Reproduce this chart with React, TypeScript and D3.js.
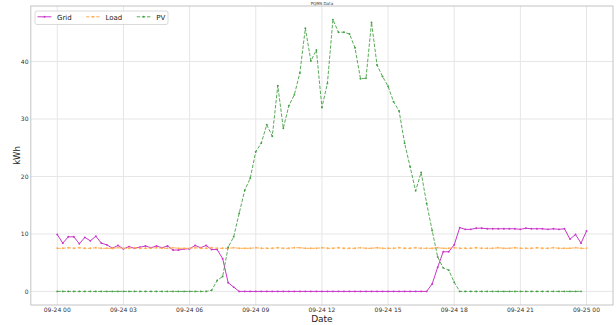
import React from "react";
import * as d3 from "d3";

const seriesNames = ["Grid", "Load", "PV"];

const gridValues = [
  9.9, 8.4, 9.5, 9.5, 8.3, 9.4, 8.8, 9.6, 8.4, 8.1, 7.5, 8.0, 7.4, 7.8, 7.5, 7.7,
  7.9, 7.6, 7.9, 7.6, 7.9, 7.2, 7.2, 7.4, 7.4, 8.0, 7.6, 8.0, 7.3, 7.3, 5.7, 1.5,
  0.75, 0, 0, 0, 0, 0, 0, 0, 0, 0, 0, 0, 0, 0, 0, 0, 0, 0, 0, 0, 0, 0, 0, 0, 0, 0,
  0, 0, 0, 0, 0, 0, 0, 0, 0, 0, 1.3, 4.2, 6.9, 6.9, 8.1, 11.1, 10.8, 10.8, 11.0,
  11.0, 10.9, 10.9, 10.9, 10.9, 10.9, 10.9, 10.8, 11.0, 10.9, 10.9, 10.9, 10.8,
  10.9, 10.8, 10.9, 9.1, 9.9, 8.4, 10.5,
];

const loadValues = [
  7.5, 7.5, 7.6, 7.5, 7.6, 7.5, 7.5, 7.6, 7.5, 7.5, 7.5, 7.6, 7.5, 7.5, 7.6, 7.5,
  7.5, 7.5, 7.6, 7.5, 7.5, 7.6, 7.5, 7.5, 7.5, 7.6, 7.5, 7.5, 7.6, 7.5, 7.5, 7.5,
  7.6, 7.5, 7.5, 7.5, 7.6, 7.5, 7.5, 7.5, 7.6, 7.5, 7.5, 7.6, 7.6, 7.5, 7.5, 7.5,
  7.6, 7.5, 7.5, 7.6, 7.5, 7.5, 7.5, 7.6, 7.5, 7.5, 7.6, 7.5, 7.5, 7.5, 7.6, 7.5,
  7.5, 7.6, 7.5, 7.5, 7.5, 7.6, 7.5, 7.5, 7.6, 7.5, 7.5, 7.5, 7.6, 7.5, 7.5, 7.5,
  7.6, 7.5, 7.5, 7.6, 7.5, 7.5, 7.5, 7.6, 7.5, 7.5, 7.6, 7.5, 7.5, 7.5, 7.6, 7.5,
  7.5,
];

const pvValues = [
  0, 0, 0, 0, 0, 0, 0, 0, 0, 0, 0, 0, 0, 0, 0, 0, 0, 0, 0, 0, 0, 0, 0, 0, 0, 0, 0, 0,
  0.2, 1.9, 2.6, 7.7, 9.5, 13.6, 17.6, 19.7, 24.3, 25.8, 29.0, 27.0, 35.8, 28.4,
  32.3, 34.2, 38.0, 45.8, 40.1, 42.0, 32.0, 36.2, 47.3, 45.1, 45.1, 44.8, 42.4,
  37.0, 37.1, 46.8, 39.4, 37.4, 35.7, 33.0, 31.4, 25.8, 21.7, 17.5, 20.7, 15.3,
  10.6, 6.0, 4.1, 3.7, 1.6, 0, 0, 0, 0, 0, 0, 0, 0, 0, 0, 0, 0, 0, 0, 0, 0, 0, 0, 0,
  0, 0, 0, 0,
];

const yTicks = [0, 10, 20, 30, 40];
const titleText = "PQMS Data";
const xLabel = "Date";
const yLabel = "kWh";

const startTime = new Date(2024, 8, 24, 0, 0);
const endTime = new Date(2024, 8, 25, 0, 0);
const times = d3.timeMinute.every(15)!.range(startTime, new Date(2024, 8, 25, 0, 1));

const colors = ["#c935c9", "#ffad52", "#46a046"];
const dashes = ["none", "3.5,1.6", "3.5,1.6"];
const widths = [1, 1, 0.9];

export default function App() {
  const W = 616;
  const H = 325;
  const left = 30.8;
  const right = 613;
  const top = 6;
  const bottom = 305;
  const font = "DejaVu Sans, Liberation Sans, sans-serif";

  const span = endTime.getTime() - startTime.getTime();
  const x = d3
    .scaleTime()
    .domain([new Date(startTime.getTime() - span * 0.05), new Date(endTime.getTime() + span * 0.05)])
    .range([left, right]);

  const all = [...gridValues, ...loadValues, ...pvValues];
  const ymin = d3.min(all)!;
  const ymax = d3.max(all)!;
  const pad = (ymax - ymin) * 0.05;
  const y = d3.scaleLinear().domain([ymin - pad, ymax + pad]).range([bottom, top]);

  const xTicks = d3.timeHour.every(3)!.range(startTime, new Date(endTime.getTime() + 1));
  const fmt = d3.timeFormat("%m-%d %H");

  const series = [gridValues, loadValues, pvValues];
  const line = d3
    .line<number>()
    .x((_, i) => x(times[i]))
    .y((v) => y(v));

  return (
    <svg
      width={W}
      height={H}
      style={{ position: "fixed", left: 0, top: 0, background: "#fff" }}
      fontFamily={font}
    >
      <rect x={0} y={0} width={W} height={H} fill="#fff" />
      {xTicks.map((t, i) => (
        <line key={"gx" + i} x1={x(t)} x2={x(t)} y1={top} y2={bottom} stroke="#e6e6e6" strokeWidth={1} />
      ))}
      {yTicks.map((t, i) => (
        <line key={"gy" + i} x1={left} x2={right} y1={y(t)} y2={y(t)} stroke="#e6e6e6" strokeWidth={1} />
      ))}
      <rect x={left} y={top} width={right - left} height={bottom - top} fill="none" stroke="#c4c4c4" strokeWidth={1} />
      {xTicks.map((t, i) => (
        <text key={"tx" + i} x={x(t)} y={312} fontSize={6} fill="#333" textAnchor="middle">
          {fmt(t)}
        </text>
      ))}
      {yTicks.map((t, i) => (
        <text key={"ty" + i} x={28.5} y={y(t) + 2.1} fontSize={6} fill="#333" textAnchor="end">
          {t}
        </text>
      ))}
      {series.map((vals, s) => (
        <g key={"s" + s}>
          <path d={line(vals)!} fill="none" stroke={colors[s]} strokeWidth={widths[s]} strokeDasharray={dashes[s]} />
          {vals.map((v, i) => (
            <circle key={i} cx={x(times[i])} cy={y(v)} r={0.95} fill={colors[s]} />
          ))}
        </g>
      ))}
      <text x={(left + right) / 2} y={4.5} fontSize={4} fill="#333" textAnchor="middle">
        {titleText}
      </text>
      <text x={(left + right) / 2} y={321.5} fontSize={9} fill="#222" textAnchor="middle">
        {xLabel}
      </text>
      <text
        transform={`translate(${19.5},${(top + bottom) / 2}) rotate(-90)`}
        fontSize={8.5}
        fill="#222"
        textAnchor="middle"
      >
        {yLabel}
      </text>
      <g>
        <rect x={35} y={11} width={133} height={13.5} rx={2} fill="#fff" fillOpacity={0.85} stroke="#d0d0d0" strokeWidth={0.8} />
        {seriesNames.map((name, s) => {
          const lx = [37.5, 86, 136.7][s];
          return (
            <g key={"l" + s}>
              <line x1={lx} x2={lx + 14} y1={16.8} y2={16.8} stroke={colors[s]} strokeWidth={widths[s]} strokeDasharray={dashes[s]} />
              <circle cx={lx + 7} cy={16.8} r={0.95} fill={colors[s]} />
              <text x={lx + 19.5} y={19.7} fontSize={7} fill="#222">
                {name}
              </text>
            </g>
          );
        })}
      </g>
    </svg>
  );
}
